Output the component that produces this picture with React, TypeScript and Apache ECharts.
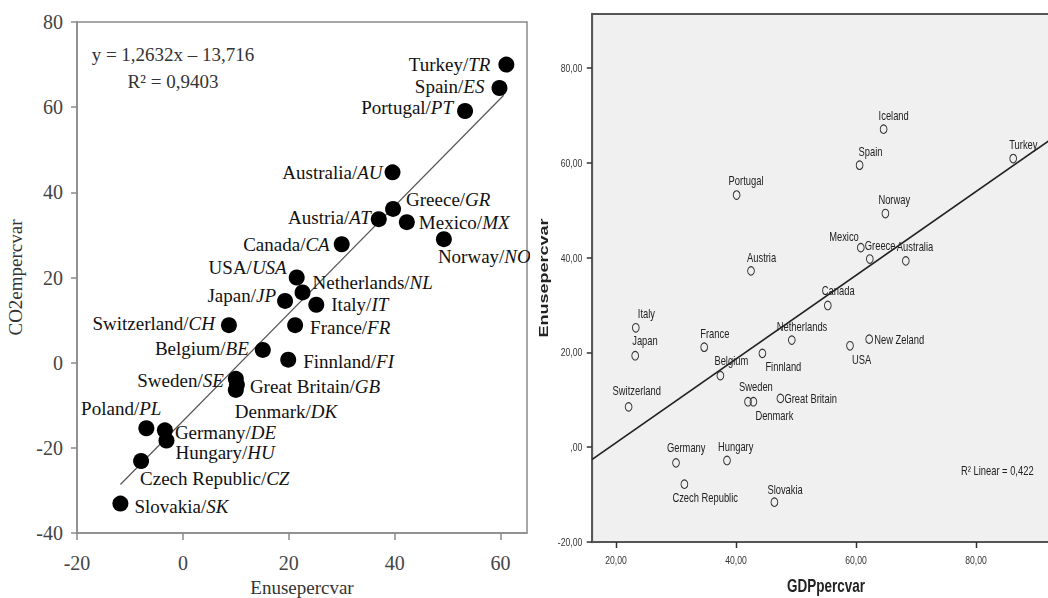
import React, { useEffect, useRef } from 'react';
import * as echarts from 'echarts';

// ---------- Left panel data (Enusepercvar vs CO2empercvar) ----------
const leftCountries = ['Turkey', 'Spain', 'Portugal', 'Australia', 'Greece', 'Austria', 'Mexico', 'Norway', 'Canada', 'USA', 'Netherlands', 'Japan', 'Italy', 'Switzerland', 'France', 'Belgium', 'Finnland', 'Sweden', 'Great Britain', 'Denmark', 'Poland', 'Germany', 'Hungary', 'Czech Republic', 'Slovakia'];
const leftCodes = ['TR', 'ES', 'PT', 'AU', 'GR', 'AT', 'MX', 'NO', 'CA', 'USA', 'NL', 'JP', 'IT', 'CH', 'FR', 'BE', 'FI', 'SE', 'GB', 'DK', 'PL', 'DE', 'HU', 'CZ', 'SK'];
const leftEnuse = [61.1, 59.8, 53.3, 39.6, 39.7, 37.0, 42.3, 49.3, 30.0, 21.5, 22.6, 19.3, 25.2, 8.7, 21.2, 15.1, 19.9, 10.0, 10.2, 10.0, -6.9, -3.4, -3.1, -7.9, -11.8];
const leftCO2 = [70.0, 64.5, 59.1, 44.7, 36.1, 33.7, 33.0, 29.0, 27.8, 20.0, 16.5, 14.5, 13.6, 8.8, 8.8, 3.0, 0.7, -3.8, -5.2, -6.4, -15.4, -15.9, -18.3, -23.1, -33.1];
const leftFit = [[-11.8, -28.6], [60.6, 62.8]];
const leftXTicks = [-20, 0, 20, 40, 60];
const leftEquation = 'y = 1,2632x – 13,716';
const leftR2 = 'R² = 0,9403';

// label placement relative to each dot: [dx, dy, align]
const leftLabelLayout: [number, number, string][] = [
  [-16, 0, 'right'], [-15, -2, 'right'], [-12, -3, 'right'], [-10, 0, 'right'], [13, -9, 'left'],
  [-8, -2, 'right'], [12, 0, 'left'], [-6, 17, 'left'], [-12, 0, 'right'], [-10, -10, 'right'],
  [10, -10, 'left'], [-9, -5, 'right'], [15, 0, 'left'], [-14, -2, 'right'], [15, 2, 'left'],
  [-14, -1, 'right'], [15, 2, 'left'], [-12, 2, 'right'], [13, 2, 'left'], [-1, 22, 'left'],
  [15, -20, 'right'], [10, 2, 'left'], [9, 12, 'left'], [-1, 17, 'left'], [14, 3, 'left'],
];

// ---------- Right panel data (GDPpercvar vs Enusepercvar) ----------
const rightCountries = ['Iceland', 'Spain', 'Turkey', 'Portugal', 'Norway', 'Mexico', 'Greece', 'Australia', 'Austria', 'Canada', 'Italy', 'Japan', 'France', 'Netherlands', 'Finnland', 'Belgium', 'New Zeland', 'USA', 'Switzerland', 'Sweden', 'Denmark', 'Great Britain', 'Germany', 'Hungary', 'Czech Republic', 'Slovakia'];
const rightGDP = [64.6, 60.6, 86.2, 40.1, 64.9, 60.8, 62.3, 68.3, 42.5, 55.3, 23.3, 23.2, 34.7, 49.3, 44.4, 37.4, 62.2, 59.0, 22.1, 42.0, 42.9, 47.4, 30.0, 38.5, 31.4, 46.4];
const rightEnuse = [67.1, 59.5, 60.9, 53.2, 49.3, 42.1, 39.7, 39.3, 37.2, 29.9, 25.2, 19.3, 21.1, 22.6, 19.8, 15.1, 22.8, 21.4, 8.5, 9.6, 9.6, 10.3, -3.3, -2.8, -7.8, -11.6];
const rightFit = [[16, -2.6], [94, 66.3]];
const rightXTicks = [20, 40, 60, 80];
const rightYTicks = [-20, 0, 20, 40, 60, 80];
const rightR2 = 'R² Linear = 0,422';

// label placement (screen px) relative to each circle: [dx, dy, align]
const rightLabelLayout: [number, number, string][] = [
  [-5, -14, 'left'], [-1, -14, 'left'], [-4, -14, 'left'], [-8, -15, 'left'], [-7, -14, 'left'],
  [-2, -11, 'right'], [-5, -14, 'left'], [-9, -14, 'left'], [-4, -13, 'left'], [-6, -15, 'left'],
  [2, -14, 'left'], [-3, -15, 'left'], [-4, -14, 'left'], [-15, -14, 'left'], [3, 13, 'left'],
  [-6, -15, 'left'], [5, 0, 'left'], [2, 14, 'left'], [-16, -16, 'left'], [-9, -15, 'left'],
  [2, 14, 'left'], [4, 0, 'left'], [-9, -15, 'left'], [-9, -14, 'left'], [-12, 13, 'left'],
  [-7, -13, 'left'],
];

const SERIF = "'Liberation Serif', 'Times New Roman', serif";
const SANS = "'Liberation Sans', Arial, sans-serif";

// the SPSS panel is horizontally compressed in the reference
const SQUEEZE = 0.75;
const RIGHT_LEFT = 528;

export default function App() {
  const leftRef = useRef<HTMLDivElement>(null);
  const rightRef = useRef<HTMLDivElement>(null);

  useEffect(() => {
    if (!leftRef.current || !rightRef.current) return;
    const left = echarts.init(leftRef.current, undefined, { renderer: 'svg' });
    const right = echarts.init(rightRef.current, undefined, { renderer: 'svg' });

    const leftData = leftCountries.map((name, i) => {
      const [dx, dy, align] = leftLabelLayout[i];
      return {
        name,
        value: [leftEnuse[i], leftCO2[i]],
        label: {
          show: true,
          position: 'inside',
          offset: [dx, dy],
          align,
          verticalAlign: 'middle',
          formatter: `{n|${name}/}{c|${leftCodes[i]}}`,
          rich: {
            n: { fontFamily: SERIF, fontSize: 19, color: '#111' },
            c: { fontFamily: SERIF, fontSize: 19, color: '#111', fontStyle: 'italic' },
          },
        },
      };
    });

    left.setOption({
      animation: false,
      backgroundColor: '#ffffff',
      grid: {
        left: 77, top: 22, width: 450, height: 511, outerBoundsMode: 'none', containLabel: false,
        show: true, borderColor: '#8a8a8a', borderWidth: 1.5, backgroundColor: 'transparent',
      },
      xAxis: {
        type: 'value', min: -20, max: 65,
        name: 'Enusepercvar', nameLocation: 'middle', nameGap: 35,
        nameTextStyle: { fontFamily: SERIF, fontSize: 19, color: '#333' },
        axisLine: { onZero: false, lineStyle: { color: '#8a8a8a', width: 1.5 } },
        axisTick: { show: true, length: 7, customValues: leftXTicks, lineStyle: { color: '#8a8a8a', width: 1.5 } },
        axisLabel: { customValues: leftXTicks, margin: 20, fontFamily: SERIF, fontSize: 20, color: '#444' },
        splitLine: { show: false },
      },
      yAxis: {
        type: 'value', min: -40, max: 80, interval: 20,
        name: 'CO2empercvar', nameLocation: 'middle', nameGap: 50, nameRotate: 90,
        nameTextStyle: { fontFamily: SERIF, fontSize: 19, color: '#333' },
        axisLine: { show: true, onZero: false, lineStyle: { color: '#8a8a8a', width: 1.5 } },
        axisTick: { show: true, length: 6, lineStyle: { color: '#8a8a8a', width: 1.5 } },
        axisLabel: { margin: 14, fontFamily: SERIF, fontSize: 20, color: '#444' },
        splitLine: { show: false },
      },
      graphic: [
        { type: 'text', x: 173, y: 54, style: { text: leftEquation, fontFamily: SERIF, fontSize: 19, fill: '#333', align: 'center', verticalAlign: 'middle' } },
        { type: 'text', x: 173, y: 81, style: { text: leftR2, fontFamily: SERIF, fontSize: 19, fill: '#333', align: 'center', verticalAlign: 'middle' } },
      ],
      series: [
        {
          type: 'line', data: leftFit, symbol: 'none', silent: true, z: 1,
          lineStyle: { color: '#555', width: 1.2 },
        },
        {
          type: 'scatter', data: leftData, symbol: 'circle', symbolSize: 16, silent: true, z: 2,
          itemStyle: { color: '#000', opacity: 1 },
        },
      ],
    });

    const k = 1 / SQUEEZE;
    const rightData = rightCountries.map((name, i) => {
      const [dx, dy, align] = rightLabelLayout[i];
      return {
        name,
        value: [rightGDP[i], rightEnuse[i]],
        label: {
          show: true,
          position: 'inside',
          offset: [dx * k, dy],
          align,
          verticalAlign: 'middle',
          formatter: name,
          fontFamily: SANS,
          fontSize: 12.5,
          color: '#222',
        },
      };
    });

    const fmtRight = (v: number) => (v === 0 ? ',00' : v.toFixed(2).replace('.', ','));

    right.setOption({
      animation: false,
      backgroundColor: 'transparent',
      grid: {
        left: (592 - RIGHT_LEFT) * k, top: 14, width: 624, height: 528, outerBoundsMode: 'none', containLabel: false,
        show: true, borderColor: '#555', borderWidth: 2, backgroundColor: '#f0f0f0',
      },
      xAxis: {
        type: 'value', min: 16, max: 94,
        name: 'GDPpercvar', nameLocation: 'middle', nameGap: 35,
        nameTextStyle: { fontFamily: SANS, fontSize: 18, fontWeight: 'bold', color: '#222' },
        axisLine: { onZero: false, lineStyle: { color: '#555', width: 2 } },
        axisTick: { show: true, length: 6, customValues: rightXTicks, lineStyle: { color: '#333', width: 2 } },
        axisLabel: { customValues: rightXTicks, margin: 12, fontFamily: SANS, fontSize: 11.5, color: '#333', formatter: fmtRight },
        splitLine: { show: false },
      },
      yAxis: {
        type: 'value', min: -20, max: 91.4,
        name: 'Enusepercvar', nameLocation: 'middle', nameGap: 50, nameRotate: 90,
        nameTextStyle: { fontFamily: SANS, fontSize: 18, fontWeight: 'bold', color: '#222' },
        axisLine: { show: true, onZero: false, lineStyle: { color: '#555', width: 2.6 } },
        axisTick: { show: true, length: 7, customValues: rightYTicks, lineStyle: { color: '#333', width: 1.5 } },
        axisLabel: { customValues: rightYTicks, margin: 13, fontFamily: SANS, fontSize: 11.5, color: '#333', formatter: fmtRight },
        splitLine: { show: false },
      },
      graphic: [
        { type: 'text', x: (961 - RIGHT_LEFT) * k, y: 470, style: { text: rightR2, fontFamily: SANS, fontSize: 12.5, fill: '#222', align: 'left', verticalAlign: 'middle' } },
      ],
      series: [
        {
          type: 'line', data: rightFit, symbol: 'none', silent: true, z: 1,
          lineStyle: { color: '#222', width: 1.8 },
        },
        {
          type: 'scatter', data: rightData, symbol: 'circle', symbolSize: [9, 8.5], silent: true, z: 2,
          itemStyle: { color: 'rgba(0,0,0,0)', borderColor: '#333', borderWidth: 1.2, opacity: 1 },
        },
      ],
    });

    return () => {
      left.dispose();
      right.dispose();
    };
  }, []);

  const rightWidth = (1060 - RIGHT_LEFT) / SQUEEZE;

  return (
    <>
      <div
        ref={leftRef}
        style={{ position: 'fixed', left: 0, top: 0, width: 530, height: 598 }}
      />
      <div
        ref={rightRef}
        style={{
          position: 'fixed', left: RIGHT_LEFT, top: 0, width: rightWidth, height: 598,
          transform: `scaleX(${SQUEEZE})`, transformOrigin: '0 0',
        }}
      />
    </>
  );
}
